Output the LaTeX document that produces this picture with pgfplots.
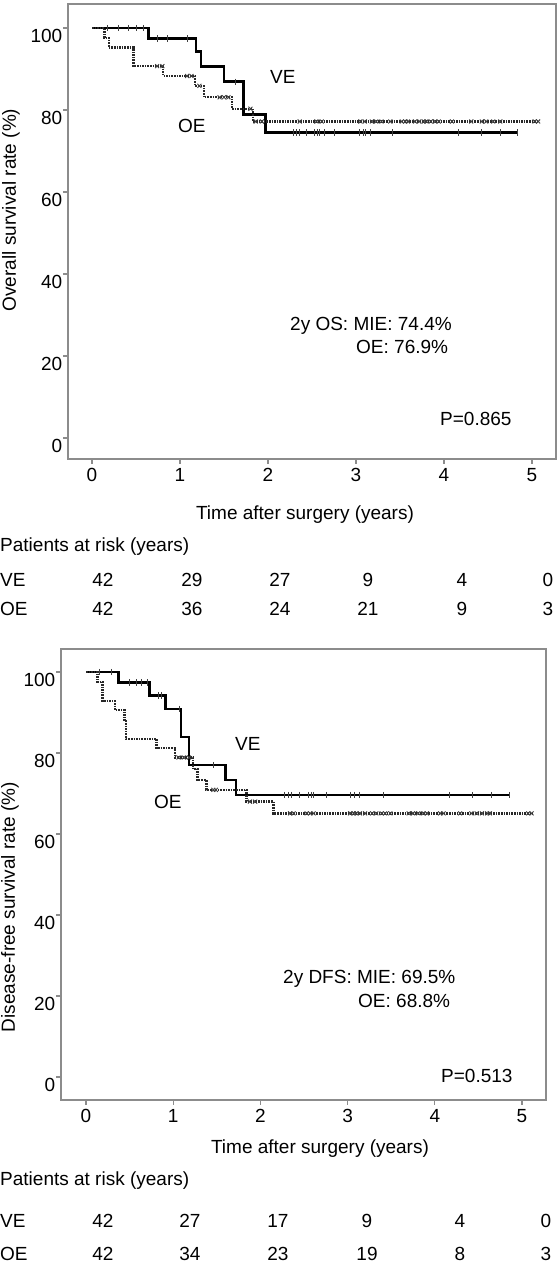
\documentclass[border=0pt]{standalone}
\usepackage{fontspec}
\setmainfont{Liberation Sans}
\usepackage{pgfplots}
\pgfplotsset{compat=1.18}
\definecolor{framegray}{RGB}{140,140,140}
\definecolor{oecol}{RGB}{40,40,40}
\newcommand{\fs}{\fontsize{19pt}{22pt}\selectfont}
\pgfplotsset{
  kmaxis/.style={
    scale only axis,
    axis line style={framegray, line width=1.4pt},
    tick style={framegray, line width=1.2pt},
    major tick length=4.5pt,
    tick align=outside,
    tick pos=left,
    xtick={0,1,2,3,4,5}, ytick={0,20,40,60,80,100},
    /pgf/number format/assume math mode=true,
    tick label style={font=\fs, text=black},
    yticklabel style={anchor=north east, inner sep=1pt},
    xticklabel style={inner sep=1pt, yshift=-4pt},
    clip=false,
  },
  ve/.style={black, line width=2.5pt, const plot},
  oe/.style={oecol, line width=2.4pt, dash pattern=on 1.6pt off 1pt, const plot},
  vecens/.style={only marks, mark=|, mark size=3.2pt, mark options={black!75, line width=0.9pt, solid}},
  oecens/.style={only marks, mark=x, mark size=2.8pt, mark options={black!75, line width=0.9pt, solid}},
}
\begin{document}
\fs
\begin{tikzpicture}[font=\fs, every node/.style={inner sep=0pt}]
\useasboundingbox (0,0) rectangle (558pt,-1262pt);
% ---------------- top: overall survival ----------------
\begin{axis}[kmaxis, at={(68pt,-4pt)}, anchor=north west, width=488pt, height=455pt,
  xmin=-0.273, xmax=5.273, ymin=-5.12, ymax=105.85]
\addplot[ve] coordinates {(0,100) (0.64,97.4) (1.18,94.3) (1.24,90.6) (1.50,86.9) (1.72,78.9) (1.97,74.5) (4.84,74.5)};
\addplot[vecens] coordinates {(0.17,100) (0.30,100) (0.41,100) (0.51,100) (0.58,100)
 (0.74,97.4) (0.86,97.4) (1.09,97.4) (1.63,86.9)
 (2.29,74.5) (2.32,74.5) (2.36,74.5) (2.44,74.5) (2.53,74.5) (2.56,74.5) (2.59,74.5) (2.64,74.5) (2.76,74.5)
 (3.04,74.5) (3.08,74.5) (3.11,74.5) (3.16,74.5) (3.41,74.5) (4.16,74.5) (4.43,74.5) (4.64,74.5) (4.84,74.5)};
\addplot[oe] coordinates {(0,100) (0.14,97.6) (0.19,95.2) (0.47,90.7) (0.81,88.3) (1.17,85.9) (1.27,83.1) (1.59,80.3) (1.83,77.2) (5.07,77.2)};
\addplot[oecens] coordinates {(0.74,90.7) (0.80,90.7) (1.08,88.3) (1.13,88.3) (1.22,85.9) (1.45,83.1) (1.50,83.1) (1.55,83.1) (1.80,80.3)
 (1.86,77.2) (1.93,77.2) (2.36,77.2) (2.55,77.2) (2.61,77.2) (3.05,77.2) (3.10,77.2) (3.18,77.2) (3.23,77.2) (3.29,77.2)
 (3.39,77.2) (3.52,77.2) (3.56,77.2) (3.59,77.2) (3.67,77.2) (3.72,77.2) (3.77,77.2) (3.80,77.2) (3.85,77.2) (3.90,77.2)
 (3.94,77.2) (4.09,77.2) (4.31,77.2) (4.43,77.2) (4.48,77.2) (4.56,77.2) (4.64,77.2) (5.03,77.2) (5.07,77.2)};
\end{axis}
\node[anchor=base west] at (270pt,-83pt) {VE};
\node[anchor=base west] at (178pt,-132pt) {OE};
\node[anchor=base west] at (290pt,-330pt) {2y OS: MIE: 74.4\%};
\node[anchor=base west] at (356pt,-353pt) {OE: 76.9\%};
\node[anchor=base west] at (440pt,-425pt) {P=0.865};
\node[rotate=90, anchor=center] at (11pt,-210pt) {Overall survival rate (\%)};
\node[anchor=base] at (305pt,-519pt) {Time after surgery (years)};
\node[anchor=base west] at (0pt,-551pt) {Patients at risk (years)};
\node[anchor=base west] at (0pt,-586pt) {VE};
\node[anchor=base west] at (0pt,-615pt) {OE};
\node[anchor=base] at (103pt,-586pt) {42};
\node[anchor=base] at (192pt,-586pt) {29};
\node[anchor=base] at (280pt,-586pt) {27};
\node[anchor=base] at (368pt,-586pt) {9};
\node[anchor=base] at (462pt,-586pt) {4};
\node[anchor=base] at (548pt,-586pt) {0};
\node[anchor=base] at (103pt,-615pt) {42};
\node[anchor=base] at (192pt,-615pt) {36};
\node[anchor=base] at (280pt,-615pt) {24};
\node[anchor=base] at (368pt,-615pt) {21};
\node[anchor=base] at (462pt,-615pt) {9};
\node[anchor=base] at (548pt,-615pt) {3};
% ---------------- bottom: disease-free survival ----------------
\begin{axis}[kmaxis, at={(61pt,-649pt)}, anchor=north west, width=485pt, height=451pt,
  xmin=-0.287, xmax=5.275, ymin=-5.68, ymax=105.68]
\addplot[ve] coordinates {(0,100) (0.37,97.4) (0.73,94.2) (0.91,90.9) (1.09,84.0) (1.18,77.0) (1.60,73.3) (1.72,69.6) (4.86,69.6)};
\addplot[vecens] coordinates {(0.15,100) (0.29,100) (0.50,97.4) (0.58,97.4) (0.64,97.4) (0.70,97.4) (0.83,94.2) (0.87,94.2)
 (1.07,90.9) (1.46,77.0)
 (2.28,69.6) (2.32,69.6) (2.36,69.6) (2.45,69.6) (2.55,69.6) (2.58,69.6) (2.61,69.6) (2.76,69.6) (3.03,69.6) (3.08,69.6)
 (3.14,69.6) (3.41,69.6) (4.17,69.6) (4.43,69.6) (4.65,69.6) (4.86,69.6)};
\addplot[oe] coordinates {(0,100) (0.13,97.6) (0.19,92.9) (0.33,90.6) (0.44,88.1) (0.46,83.5) (0.81,81.2) (1.02,78.9) (1.23,76.0) (1.28,73.3) (1.38,70.9) (1.84,68.0) (2.15,65.1) (5.13,65.1)};
\addplot[oecens] coordinates {(1.06,78.9) (1.12,78.9) (1.18,78.9) (1.46,70.9) (1.49,70.9) (1.88,68.0) (1.94,68.0)
 (2.34,65.1) (2.38,65.1) (2.53,65.1) (2.57,65.1) (2.61,65.1) (3.03,65.1) (3.07,65.1) (3.10,65.1) (3.14,65.1) (3.20,65.1)
 (3.28,65.1) (3.33,65.1) (3.39,65.1) (3.43,65.1) (3.49,65.1) (3.70,65.1) (3.75,65.1) (3.81,65.1) (3.87,65.1) (3.91,65.1)
 (4.06,65.1) (4.10,65.1) (4.29,65.1) (4.42,65.1) (4.48,65.1) (4.54,65.1) (4.60,65.1) (4.63,65.1) (5.07,65.1) (5.11,65.1)};
\end{axis}
\node[anchor=base west] at (235pt,-750pt) {VE};
\node[anchor=base west] at (154pt,-808pt) {OE};
\node[anchor=base west] at (283pt,-983pt) {2y DFS: MIE: 69.5\%};
\node[anchor=base west] at (358pt,-1007pt) {OE: 68.8\%};
\node[anchor=base west] at (441pt,-1082pt) {P=0.513};
\node[rotate=90, anchor=center] at (10pt,-907pt) {Disease-free survival rate (\%)};
\node[anchor=base] at (320pt,-1153pt) {Time after surgery (years)};
\node[anchor=base west] at (0pt,-1185pt) {Patients at risk (years)};
\node[anchor=base west] at (0pt,-1227pt) {VE};
\node[anchor=base west] at (0pt,-1260pt) {OE};
\node[anchor=base] at (103pt,-1227pt) {42};
\node[anchor=base] at (190pt,-1227pt) {27};
\node[anchor=base] at (278pt,-1227pt) {17};
\node[anchor=base] at (367pt,-1227pt) {9};
\node[anchor=base] at (460pt,-1227pt) {4};
\node[anchor=base] at (546pt,-1227pt) {0};
\node[anchor=base] at (103pt,-1260pt) {42};
\node[anchor=base] at (190pt,-1260pt) {34};
\node[anchor=base] at (278pt,-1260pt) {23};
\node[anchor=base] at (367pt,-1260pt) {19};
\node[anchor=base] at (460pt,-1260pt) {8};
\node[anchor=base] at (546pt,-1260pt) {3};
\end{tikzpicture}
\end{document}
